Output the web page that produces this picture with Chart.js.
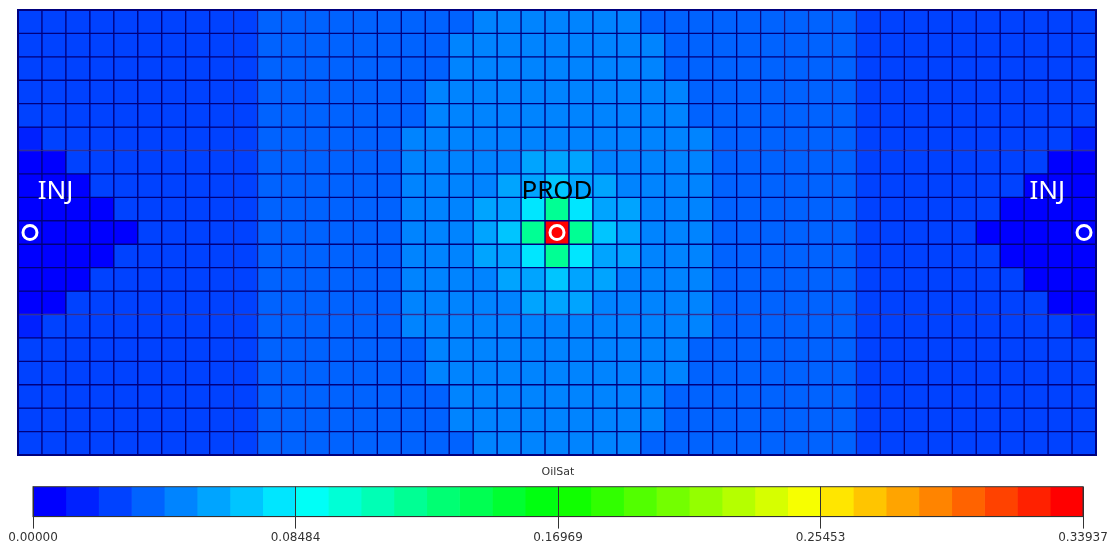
<!DOCTYPE html>
<html>
<head>
<meta charset="utf-8">
<script src="https://cdn.jsdelivr.net/npm/chart.js@4.4.1/dist/chart.umd.min.js"></script>
<style>
html,body{margin:0;padding:0;background:#fff;width:1110px;height:547px;overflow:hidden}
#grid{position:absolute;left:0;top:0}
#bar{position:absolute;left:0;top:460px}
</style>
</head>
<body>
<canvas id="grid" width="1110" height="465"></canvas>
<canvas id="bar" width="1110" height="87"></canvas>
<script>
// ---------------- data ----------------
const gridColumns = ['1','2','3','4','5','6','7','8','9','10','11','12','13','14','15',
  '16','17','18','19','20','21','22','23','24','25','26','27','28','29','30',
  '31','32','33','34','35','36','37','38','39','40','41','42','43','44','45'];

// Oil saturation per cell, one array per grid row (top to bottom)
const row00 = [0.027,0.027,0.027,0.027,0.027,0.027,0.027,0.027,0.027,0.027,
  0.038,0.038,0.038,0.038,0.038,0.038,0.038,0.038,0.038,
  0.048,0.048,0.048,0.048,0.048,0.048,0.048,
  0.038,0.038,0.038,0.038,0.038,0.038,0.038,0.038,0.038,
  0.027,0.027,0.027,0.027,0.027,0.027,0.027,0.027,0.027,0.027];
const row01 = [0.027,0.027,0.027,0.027,0.027,0.027,0.027,0.027,0.027,0.027,
  0.038,0.038,0.038,0.038,0.038,0.038,0.038,0.038,
  0.048,0.048,0.048,0.048,0.048,0.048,0.048,0.048,0.048,
  0.038,0.038,0.038,0.038,0.038,0.038,0.038,0.038,
  0.027,0.027,0.027,0.027,0.027,0.027,0.027,0.027,0.027,0.027];
const row02 = [0.027,0.027,0.027,0.027,0.027,0.027,0.027,0.027,0.027,0.027,
  0.038,0.038,0.038,0.038,0.038,0.038,0.038,0.038,
  0.048,0.048,0.048,0.048,0.048,0.048,0.048,0.048,0.048,
  0.038,0.038,0.038,0.038,0.038,0.038,0.038,0.038,
  0.027,0.027,0.027,0.027,0.027,0.027,0.027,0.027,0.027,0.027];
const row03 = [0.027,0.027,0.027,0.027,0.027,0.027,0.027,0.027,0.027,0.027,
  0.038,0.038,0.038,0.038,0.038,0.038,0.038,
  0.048,0.048,0.048,0.048,0.048,0.048,0.048,0.048,0.048,0.048,0.048,
  0.038,0.038,0.038,0.038,0.038,0.038,0.038,
  0.027,0.027,0.027,0.027,0.027,0.027,0.027,0.027,0.027,0.027];
const row04 = [0.027,0.027,0.027,0.027,0.027,0.027,0.027,0.027,0.027,0.027,
  0.038,0.038,0.038,0.038,0.038,0.038,0.038,
  0.048,0.048,0.048,0.048,0.048,0.048,0.048,0.048,0.048,0.048,0.048,
  0.038,0.038,0.038,0.038,0.038,0.038,0.038,
  0.027,0.027,0.027,0.027,0.027,0.027,0.027,0.027,0.027,0.027];
const row05 = [0.016,0.027,0.027,0.027,0.027,0.027,0.027,0.027,0.027,0.027,
  0.038,0.038,0.038,0.038,0.038,0.038,
  0.048,0.048,0.048,0.048,0.048,0.048,0.048,0.048,0.048,0.048,0.048,0.048,0.048,
  0.038,0.038,0.038,0.038,0.038,0.038,
  0.027,0.027,0.027,0.027,0.027,0.027,0.027,0.027,0.027,0.016];
const row06 = [0.005,0.005,0.027,0.027,0.027,0.027,0.027,0.027,0.027,0.027,
  0.038,0.038,0.038,0.038,0.038,0.038,
  0.048,0.048,0.048,0.048,0.048,0.058,0.058,0.058,0.048,0.048,0.048,0.048,0.048,
  0.038,0.038,0.038,0.038,0.038,0.038,
  0.027,0.027,0.027,0.027,0.027,0.027,0.027,0.027,0.005,0.005];
const row07 = [0.005,0.005,0.005,0.027,0.027,0.027,0.027,0.027,0.027,0.027,
  0.038,0.038,0.038,0.038,0.038,0.038,
  0.048,0.048,0.048,0.048,0.058,0.058,0.069,0.058,0.058,0.048,0.048,0.048,0.048,
  0.038,0.038,0.038,0.038,0.038,0.038,
  0.027,0.027,0.027,0.027,0.027,0.027,0.027,0.005,0.005,0.005];
const row08 = [0.005,0.005,0.005,0.005,0.027,0.027,0.027,0.027,0.027,0.027,
  0.038,0.038,0.038,0.038,0.038,0.038,
  0.048,0.048,0.048,0.058,0.058,0.080,0.122,0.080,0.058,0.058,0.048,0.048,0.048,
  0.038,0.038,0.038,0.038,0.038,0.038,
  0.027,0.027,0.027,0.027,0.027,0.027,0.005,0.005,0.005,0.005];
const row09 = [0.005,0.005,0.005,0.005,0.005,0.027,0.027,0.027,0.027,0.027,
  0.038,0.038,0.038,0.038,0.038,0.038,
  0.048,0.048,0.048,0.058,0.069,0.122,0.335,0.122,0.069,0.058,0.048,0.048,0.048,
  0.038,0.038,0.038,0.038,0.038,0.038,
  0.027,0.027,0.027,0.027,0.027,0.005,0.005,0.005,0.005,0.005];
const row10 = [0.005,0.005,0.005,0.005,0.027,0.027,0.027,0.027,0.027,0.027,
  0.038,0.038,0.038,0.038,0.038,0.038,
  0.048,0.048,0.048,0.058,0.058,0.080,0.122,0.080,0.058,0.058,0.048,0.048,0.048,
  0.038,0.038,0.038,0.038,0.038,0.038,
  0.027,0.027,0.027,0.027,0.027,0.027,0.005,0.005,0.005,0.005];
const row11 = [0.005,0.005,0.005,0.027,0.027,0.027,0.027,0.027,0.027,0.027,
  0.038,0.038,0.038,0.038,0.038,0.038,
  0.048,0.048,0.048,0.048,0.058,0.058,0.069,0.058,0.058,0.048,0.048,0.048,0.048,
  0.038,0.038,0.038,0.038,0.038,0.038,
  0.027,0.027,0.027,0.027,0.027,0.027,0.027,0.005,0.005,0.005];
const row12 = [0.005,0.005,0.027,0.027,0.027,0.027,0.027,0.027,0.027,0.027,
  0.038,0.038,0.038,0.038,0.038,0.038,
  0.048,0.048,0.048,0.048,0.048,0.058,0.058,0.058,0.048,0.048,0.048,0.048,0.048,
  0.038,0.038,0.038,0.038,0.038,0.038,
  0.027,0.027,0.027,0.027,0.027,0.027,0.027,0.027,0.005,0.005];
const row13 = [0.016,0.027,0.027,0.027,0.027,0.027,0.027,0.027,0.027,0.027,
  0.038,0.038,0.038,0.038,0.038,0.038,
  0.048,0.048,0.048,0.048,0.048,0.048,0.048,0.048,0.048,0.048,0.048,0.048,0.048,
  0.038,0.038,0.038,0.038,0.038,0.038,
  0.027,0.027,0.027,0.027,0.027,0.027,0.027,0.027,0.027,0.016];
const row14 = [0.027,0.027,0.027,0.027,0.027,0.027,0.027,0.027,0.027,0.027,
  0.038,0.038,0.038,0.038,0.038,0.038,0.038,
  0.048,0.048,0.048,0.048,0.048,0.048,0.048,0.048,0.048,0.048,0.048,
  0.038,0.038,0.038,0.038,0.038,0.038,0.038,
  0.027,0.027,0.027,0.027,0.027,0.027,0.027,0.027,0.027,0.027];
const row15 = [0.027,0.027,0.027,0.027,0.027,0.027,0.027,0.027,0.027,0.027,
  0.038,0.038,0.038,0.038,0.038,0.038,0.038,
  0.048,0.048,0.048,0.048,0.048,0.048,0.048,0.048,0.048,0.048,0.048,
  0.038,0.038,0.038,0.038,0.038,0.038,0.038,
  0.027,0.027,0.027,0.027,0.027,0.027,0.027,0.027,0.027,0.027];
const row16 = [0.027,0.027,0.027,0.027,0.027,0.027,0.027,0.027,0.027,0.027,
  0.038,0.038,0.038,0.038,0.038,0.038,0.038,0.038,
  0.048,0.048,0.048,0.048,0.048,0.048,0.048,0.048,0.048,
  0.038,0.038,0.038,0.038,0.038,0.038,0.038,0.038,
  0.027,0.027,0.027,0.027,0.027,0.027,0.027,0.027,0.027,0.027];
const row17 = [0.027,0.027,0.027,0.027,0.027,0.027,0.027,0.027,0.027,0.027,
  0.038,0.038,0.038,0.038,0.038,0.038,0.038,0.038,
  0.048,0.048,0.048,0.048,0.048,0.048,0.048,0.048,0.048,
  0.038,0.038,0.038,0.038,0.038,0.038,0.038,0.038,
  0.027,0.027,0.027,0.027,0.027,0.027,0.027,0.027,0.027,0.027];
const row18 = [0.027,0.027,0.027,0.027,0.027,0.027,0.027,0.027,0.027,0.027,
  0.038,0.038,0.038,0.038,0.038,0.038,0.038,0.038,0.038,
  0.048,0.048,0.048,0.048,0.048,0.048,0.048,
  0.038,0.038,0.038,0.038,0.038,0.038,0.038,0.038,0.038,
  0.027,0.027,0.027,0.027,0.027,0.027,0.027,0.027,0.027,0.027];

const oilSatMin = 0.0;
const oilSatMax = 0.33937;
const colorBandCount = 32;
const colorTicks = [0.0, 0.08484, 0.16969, 0.25453, 0.33937];
const colorTickLabels = ['0.00000', '0.08484', '0.16969', '0.25453', '0.33937'];

const wellNames = ['INJ', 'PROD', 'INJ'];
const wellColumns = ['1', '23', '45'];
const wellRows = [9, 9, 9];

// ---------------- styles ----------------
const palette = ['#0000FF','#0021FF','#0042FF','#0063FF','#0084FF','#00A4FF','#00C5FF','#00E6FF',
  '#00FFF7','#00FFD6','#00FFB5','#00FF94','#00FF73','#00FF52','#00FF31','#00FF10',
  '#10FF00','#31FF00','#52FF00','#73FF00','#94FF00','#B5FF00','#D6FF00','#F7FF00',
  '#FFE600','#FFC500','#FFA400','#FF8400','#FF6300','#FF4200','#FF2100','#FF0000'];
const cellLine = '#00007E';
const labelStyle = [
  {dx: 1.065, y: 8.05, color: '#ffffff'},
  {dx: 22.0,  y: 8.05, color: '#000000'},
  {dx: 42.47, y: 8.05, color: '#ffffff'}
];

function colorOf(v) {
  let b = Math.floor((v - oilSatMin) / (oilSatMax - oilSatMin) * colorBandCount);
  b = Math.max(0, Math.min(colorBandCount - 1, b));
  return palette[b];
}

const gridRows = [row00,row01,row02,row03,row04,row05,row06,row07,row08,row09,
  row10,row11,row12,row13,row14,row15,row16,row17,row18];

const cellDatasets = gridRows.map((row, r) => ({
  type: 'bar',
  data: row.map(() => [r, r + 1]),
  backgroundColor: row.map(colorOf),
  borderColor: cellLine,
  borderWidth: 1,
  borderSkipped: false,
  barPercentage: 1,
  categoryPercentage: 1,
  grouped: false,
  order: 2
}));

const wellDataset = {
  type: 'scatter',
  data: wellColumns.map((c, i) => ({x: c, y: wellRows[i] + 0.5})),
  pointStyle: 'circle',
  pointRadius: 7,
  pointHoverRadius: 7,
  borderWidth: 3,
  borderColor: '#ffffff',
  backgroundColor: 'rgba(0,0,0,0)',
  order: 0
};

const gridDecor = {
  id: 'gridDecor',
  afterDatasetsDraw(chart) {
    const {ctx, chartArea: a, scales: {x, y}} = chart;
    ctx.save();
    ctx.strokeStyle = cellLine;
    ctx.lineWidth = 2;
    ctx.strokeRect(a.left, a.top, a.right - a.left, a.bottom - a.top);
    ctx.font = '26px "Noto Sans", "Open Sans", sans-serif';
    ctx.textAlign = 'center';
    ctx.textBaseline = 'alphabetic';
    wellNames.forEach((name, i) => {
      const s = labelStyle[i];
      ctx.fillStyle = s.color;
      ctx.fillText(name, x.getPixelForValue(s.dx), y.getPixelForValue(s.y));
    });
    ctx.restore();
  }
};

new Chart(document.getElementById('grid'), {
  type: 'bar',
  data: {labels: gridColumns, datasets: [...cellDatasets, wellDataset]},
  options: {
    responsive: false,
    animation: false,
    events: [],
    layout: {padding: {left: 18, right: 14, top: 7, bottom: 6}},
    scales: {
      x: {type: 'category', display: false, offset: true},
      y: {type: 'linear', display: false, min: 0, max: gridRows.length, reverse: true}
    },
    plugins: {legend: {display: false}, tooltip: {enabled: false}}
  },
  plugins: [gridDecor]
});

// ---------------- colour bar ----------------
const bandStep = (oilSatMax - oilSatMin) / colorBandCount;
const bandDatasets = palette.map((col, i) => ({
  data: [[oilSatMin + i * bandStep, oilSatMin + (i + 1) * bandStep]],
  backgroundColor: col,
  borderWidth: 0,
  barPercentage: 1,
  categoryPercentage: 1,
  grouped: false
}));

const barFrame = {
  id: 'barFrame',
  afterDraw(chart) {
    const {ctx, chartArea: a} = chart;
    ctx.save();
    ctx.strokeStyle = '#333333';
    ctx.lineWidth = 1;
    ctx.strokeRect(a.left, a.top, a.right - a.left, a.bottom - a.top);
    ctx.restore();
  }
};

new Chart(document.getElementById('bar'), {
  type: 'bar',
  data: {labels: ['OilSat'], datasets: bandDatasets},
  options: {
    indexAxis: 'y',
    responsive: false,
    animation: false,
    events: [],
    layout: {padding: {left: 33, right: 27, top: 0, bottom: 0}},
    scales: {
      x: {
        type: 'linear', min: oilSatMin, max: oilSatMax,
        afterBuildTicks: (s) => { s.ticks = colorTicks.map(v => ({value: v})); },
        ticks: {
          callback: (v, i) => colorTickLabels[i],
          autoSkip: false, maxRotation: 0, padding: 2,
          color: '#333333',
          font: {family: '"DejaVu Sans", sans-serif', size: 12},
          z: 1
        },
        grid: {color: '#333333', lineWidth: 1, tickLength: 12, drawOnChartArea: true, z: 1},
        border: {display: true, color: '#333333', z: 1}
      },
      y: {display: false}
    },
    plugins: {
      legend: {display: false},
      tooltip: {enabled: false},
      title: {
        display: true, text: 'OilSat', color: '#333333',
        font: {family: '"DejaVu Sans", sans-serif', size: 11, weight: 'normal'},
        padding: {top: 6, bottom: 7.5}
      }
    }
  },
  plugins: [barFrame]
});
</script>
</body>
</html>
